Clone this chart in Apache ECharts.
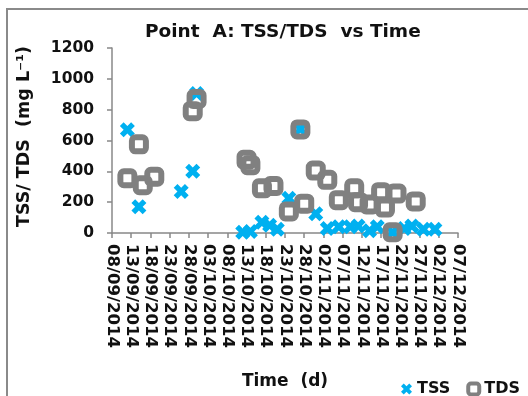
<!DOCTYPE html>
<html>
<head>
<meta charset="utf-8">
<script src="https://cdn.jsdelivr.net/npm/echarts@6/dist/echarts.min.js"></script>
<style>
html,body{margin:0;padding:0;background:#fff;}
#chart{width:528px;height:396px;}
</style>
</head>
<body>
<div id="chart"></div>
<script>
// ---- data (dates as dd/mm/yyyy, values in mg/L) ----
const tssDates = ['12/09/2014','15/09/2014','26/09/2014','29/09/2014','30/09/2014',
  '12/10/2014','14/10/2014','17/10/2014','19/10/2014','21/10/2014','24/10/2014','27/10/2014','31/10/2014',
  '03/11/2014','06/11/2014','09/11/2014','11/11/2014','14/11/2014','16/11/2014','20/11/2014','23/11/2014','25/11/2014','28/11/2014','01/12/2014'];
const tssValues = [670,170,270,400,905,
  5,10,70,50,25,225,675,125,
  30,40,40,45,15,40,5,30,45,25,25];

const tdsDates = ['12/09/2014','15/09/2014','16/09/2014','19/09/2014','29/09/2014','30/09/2014',
  '13/10/2014','14/10/2014','17/10/2014','20/10/2014','24/10/2014','27/10/2014','28/10/2014','31/10/2014',
  '03/11/2014','06/11/2014','10/11/2014','11/11/2014','14/11/2014','17/11/2014','18/11/2014','20/11/2014','21/11/2014','26/11/2014'];
const tdsValues = [355,575,310,365,790,870,
  475,440,290,305,140,672,190,405,
  345,213,290,200,185,265,165,5,256,205];

const xTickLabels = ['08/09/2014','13/09/2014','18/09/2014','23/09/2014','28/09/2014','03/10/2014',
  '08/10/2014','13/10/2014','18/10/2014','23/10/2014','28/10/2014','02/11/2014','07/11/2014',
  '12/11/2014','17/11/2014','22/11/2014','27/11/2014','02/12/2014','07/12/2014'];
const yTicks = [0,200,400,600,800,1000,1200];

// ---- helpers ----
const BASE = Date.UTC(2014, 8, 8);
function dayOffset(s){
  const p = s.split('/');
  return Math.round((Date.UTC(+p[2], +p[1]-1, +p[0]) - BASE) / 86400000);
}
function pairs(dates, vals){ return dates.map((d,i)=>[dayOffset(d), vals[i]]); }

const FONT = 'DejaVu Sans';
const crossPath = 'path://M0,2.5 L2.5,0 L5,2.5 L7.5,0 L10,2.5 L7.5,5 L10,7.5 L7.5,10 L5,7.5 L2.5,10 L0,7.5 L2.5,5 Z';

const chart = echarts.init(document.getElementById('chart'), null, {renderer:'canvas'});
chart.setOption({
  animation: false,
  backgroundColor: '#fff',
  title: {
    text: 'Point  A: TSS/TDS  vs Time',
    left: 140, top: 18,
    textStyle: {fontFamily: FONT, fontWeight: 'bold', fontSize: 18.5, color: '#111'}
  },
  graphic: [{
    type: 'rect', silent: true,
    shape: {x: 7, y: 9, width: 600, height: 500},
    style: {fill: 'none', stroke: '#8a8a8a', lineWidth: 2}
  }],
  legend: {
    left: 396, top: 376,
    itemWidth: 11, itemHeight: 11, itemGap: 16,
    textStyle: {fontFamily: FONT, fontWeight: 'bold', fontSize: 16, color: '#111'},
    data: [
      {name: 'TSS', icon: crossPath},
      {name: 'TDS', icon: 'roundRect', itemStyle: {color: 'transparent', borderColor: '#808080', borderWidth: 4}}
    ]
  },
  grid: {left: 112, right: 70, top: 48, bottom: 163, outerBoundsMode: 'none'},
  xAxis: {
    type: 'value', min: 0, max: 90, interval: 5,
    name: 'Time  (d)', nameLocation: 'middle', nameGap: 140,
    nameTextStyle: {fontFamily: FONT, fontWeight: 'bold', fontSize: 17, color: '#111'},
    axisLine: {show: true, lineStyle: {color: '#888', width: 1.5}},
    axisTick: {show: true, length: 5, lineStyle: {color: '#888', width: 1.5}},
    splitLine: {show: false},
    axisLabel: {
      rotate: -90, margin: 11,
      fontFamily: FONT, fontWeight: 'bold', fontSize: 16.5, color: '#111',
      formatter: v => xTickLabels[Math.round(v/5)] || ''
    }
  },
  yAxis: {
    type: 'value', min: yTicks[0], max: yTicks[yTicks.length-1], interval: 200,
    name: 'TSS/ TDS  (mg L\u207B\u00B9)', nameLocation: 'middle', nameRotate: 90, nameGap: 79,
    nameTextStyle: {fontFamily: FONT, fontWeight: 'bold', fontSize: 17.5, color: '#111', padding: [0, 0, 0, 8]},
    axisLine: {show: true, lineStyle: {color: '#888', width: 1.5}},
    axisTick: {show: true, length: 5, lineStyle: {color: '#888', width: 1.5}},
    splitLine: {show: false},
    axisLabel: {margin: 18, fontFamily: FONT, fontWeight: 'bold', fontSize: 15.5, color: '#111',
      formatter: v => String(v)}
  },
  series: [
    {
      name: 'TSS', type: 'scatter',
      symbol: crossPath, symbolSize: 15,
      itemStyle: {color: '#00B0F0', opacity: 1},
      data: pairs(tssDates, tssValues)
    },
    {
      name: 'TDS', type: 'scatter',
      symbol: 'roundRect', symbolSize: 14,
      itemStyle: {color: 'transparent', borderColor: '#808080', borderWidth: 6, opacity: 1},
      data: pairs(tdsDates, tdsValues)
    }
  ]
});
</script>
</body>
</html>
